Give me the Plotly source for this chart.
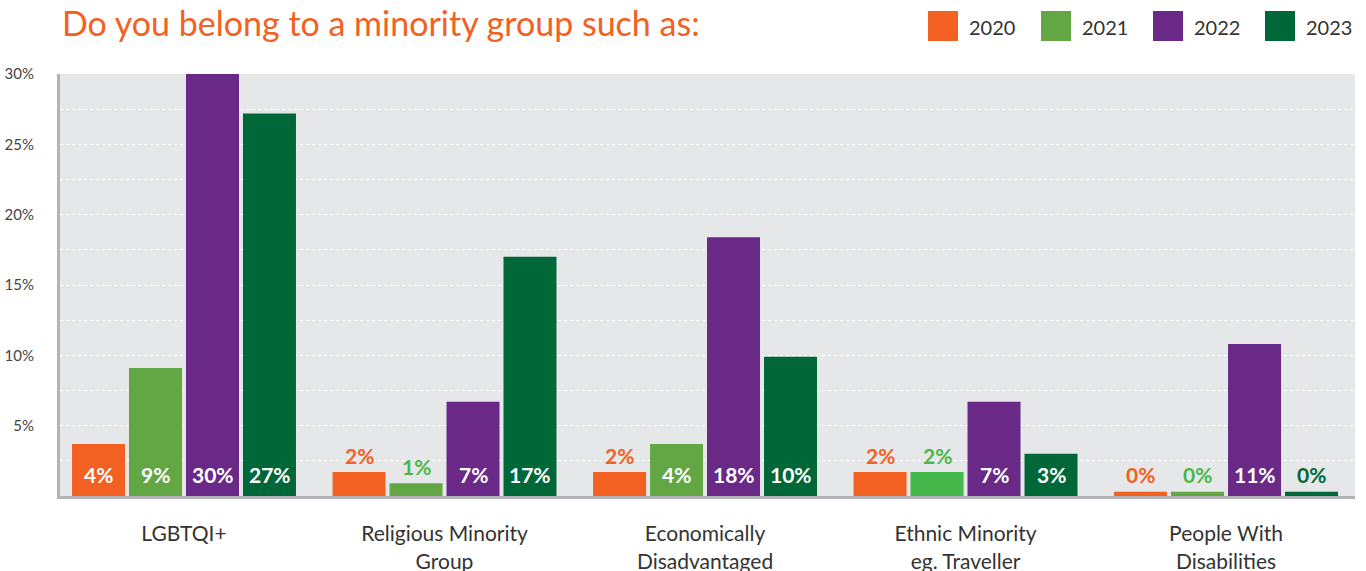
import plotly.graph_objects as go

# Survey shares (%) per minority group and year
categories = [
    "LGBTQI+",
    "Religious Minority<br>Group",
    "Economically<br>Disadvantaged",
    "Ethnic Minority<br>eg. Traveller",
    "People With<br>Disabilities",
]
years = ["2020", "2021", "2022", "2023"]
share_2020 = [3.7, 1.7, 1.7, 1.7, 0.3]
share_2021 = [9.1, 0.9, 3.7, 1.7, 0.3]
share_2022 = [30.0, 6.7, 18.4, 6.7, 10.8]
share_2023 = [27.2, 17.0, 9.9, 3.0, 0.3]
y_ticks = [5, 10, 15, 20, 25, 30]
y_tick_text = ["5%", "10%", "15%", "20%", "25%", "30%"]

series = [share_2020, share_2021, share_2022, share_2023]
bar_colors = ["#f26122", "#62a744", "#6a2987", "#006838"]
label_colors = ["#f26122", "#4cb848", "#6a2987", "#006838"]
FONT = "Lato"

W, H = 1366, 571
ML, MR, MT, MB = 60, 11, 74, 75
PW = W - ML - MR
PH = H - MT - MB


def px_x(p):
    return (p - ML) / PW


def px_y(p):
    return (H - MB - p) / PH


fig = go.Figure()
for i, (yr, vals) in enumerate(zip(years, series)):
    colors = [bar_colors[i]] * len(vals)
    if yr == "2021":
        colors[3] = "#45b649"  # brighter green used for the ethnic minority bar
    fig.add_trace(go.Bar(
        x=categories, y=vals, name=yr,
        marker=dict(color=colors, line=dict(width=0)),
        showlegend=False, hoverinfo="skip",
    ))

# Value labels: white inside the base of tall bars, coloured above short ones
PITCH = 57
for i, vals in enumerate(series):
    for cat, v in zip(categories, vals):
        txt = f"{round(v)}%"
        inside = v >= 2.5
        fig.add_annotation(
            x=cat, xref="x", yref="y",
            y=0 if inside else v,
            yshift=21.5 if inside else 17,
            xshift=(i - 1.5) * PITCH,
            text=f"<b>{txt}</b>", showarrow=False,
            xanchor="center", yanchor="middle",
            font=dict(family=FONT, size=21,
                      color="white" if inside else label_colors[i]),
        )

# Title
fig.add_annotation(
    text="Do you belong to a minority group such as:",
    xref="paper", yref="paper", x=px_x(60), y=px_y(22),
    xanchor="left", yanchor="middle", showarrow=False,
    font=dict(family=FONT, size=34, color="#f26122"),
)

# Legend: coloured squares with year labels
leg_x = [928, 1041, 1153, 1265]
for yr, c, lx in zip(years, bar_colors, leg_x):
    fig.add_shape(type="rect", xref="paper", yref="paper",
                  x0=px_x(lx), x1=px_x(lx + 30), y0=px_y(41), y1=px_y(11),
                  fillcolor=c, line=dict(width=0))
    fig.add_annotation(text=yr, xref="paper", yref="paper",
                       x=px_x(lx + 39), y=px_y(27), xanchor="left", yanchor="middle",
                       showarrow=False,
                       font=dict(family=FONT, size=20, color="#333333"))

fig.update_layout(
    width=W, height=H,
    margin=dict(l=ML, r=MR, t=MT, b=MB, autoexpand=False),
    paper_bgcolor="white", plot_bgcolor="#e6e7e8",
    barmode="group", bargap=0.125, bargroupgap=0.07,
    font=dict(family=FONT),
    xaxis=dict(
        type="category", range=[-0.476, 4.495],
        showgrid=False, zeroline=False,
        showline=True, linecolor="#b1b3b6", linewidth=3,
        ticks="", ticklabelstandoff=17,
        tickfont=dict(family=FONT, size=21, color="#333333"),
        automargin=False, fixedrange=True,
    ),
    yaxis=dict(
        range=[0, 30], tickvals=y_ticks, ticktext=y_tick_text,
        showgrid=True, gridcolor="white", gridwidth=1, griddash="dot",
        minor=dict(dtick=2.5, tick0=0, showgrid=True, gridcolor="white",
                   gridwidth=1, griddash="dot"),
        zeroline=False,
        showline=True, linecolor="#b1b3b6", linewidth=3,
        ticks="", ticklabelstandoff=20,
        tickfont=dict(family=FONT, size=15, color="#444444"),
        automargin=False, fixedrange=True,
    ),
)

fig.write_html("out.html")
